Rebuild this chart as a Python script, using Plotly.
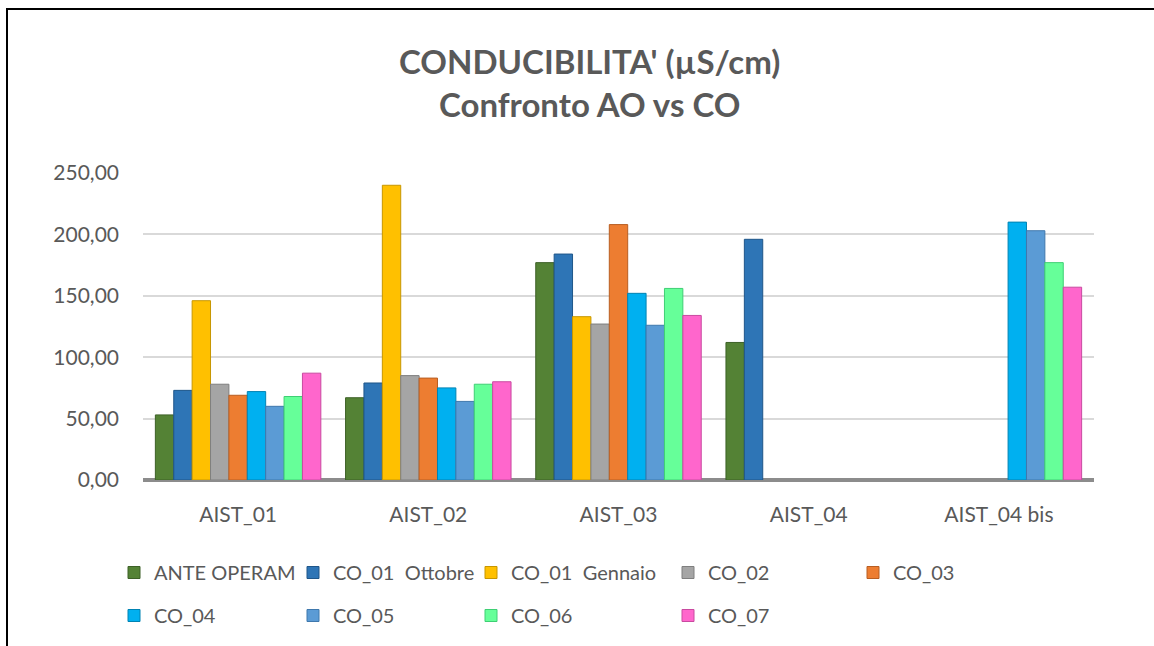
import plotly.graph_objects as go

categories = ["AIST_01", "AIST_02", "AIST_03", "AIST_04", "AIST_04 bis"]

series_names = ["ANTE OPERAM", "CO_01  Ottobre", "CO_01  Gennaio", "CO_02", "CO_03",
                "CO_04", "CO_05", "CO_06", "CO_07"]

ante_operam = [53, 67, 177, 112, None]
co_01_ottobre = [73, 79, 184, 196, None]
co_01_gennaio = [146, 240, 133, None, None]
co_02 = [78, 85, 127, None, None]
co_03 = [69, 83, 208, None, None]
co_04 = [72, 75, 152, None, 210]
co_05 = [60, 64, 126, None, 203]
co_06 = [68, 78, 156, None, 177]
co_07 = [87, 80, 134, None, 157]

series_values = [ante_operam, co_01_ottobre, co_01_gennaio, co_02, co_03,
                 co_04, co_05, co_06, co_07]

colors = ["#548235", "#2E75B6", "#FFC000", "#A5A5A5", "#ED7D31",
          "#00B0F0", "#5B9BD5", "#66FF99", "#FF66CC"]
edge_colors = ["#3d6127", "#1f5689", "#c79600", "#7f7f7f", "#b85e22",
               "#0083b3", "#3f78ad", "#3fcf74", "#c94aa0"]

# legend column assignment (matches reference layout)
legend_ids = ["legend", "legend2", "legend3", "legend4", "legend5",
              "legend", "legend2", "legend3", "legend4"]

fig = go.Figure()
for name, vals, c, ec, lg in zip(series_names, series_values, colors, edge_colors, legend_ids):
    fig.add_trace(go.Bar(
        name=name, x=categories, y=vals,
        marker=dict(color=c, line=dict(color=ec, width=1)),
        legend=lg, legendgroup=name,
    ))

font_family = "Lato, 'Open Sans', sans-serif"
txt = "#595959"

legend_x_px = [133, 312, 490, 687, 872]
plot_l, plot_r = 143, 1154 - 60
plot_w = plot_r - plot_l
plot_t, plot_b = 173, 480
plot_h = plot_b - plot_t

def px_to_paper_x(px):
    return (px - plot_l) / plot_w

def py_to_paper_y(py):
    return (plot_b - py) / plot_h

legend_common = dict(
    orientation="v", xanchor="left", yanchor="top",
    font=dict(family=font_family, size=20, color=txt),
    bgcolor="rgba(0,0,0,0)", itemwidth=30, tracegroupgap=14,
    itemclick=False, itemdoubleclick=False,
)
layout_legends = {}
for i, lid in enumerate(["legend", "legend2", "legend3", "legend4", "legend5"]):
    layout_legends[lid] = dict(legend_common, x=px_to_paper_x(legend_x_px[i] - 19),
                               y=py_to_paper_y(553))

fig.update_layout(
    width=1154, height=646,
    margin=dict(l=plot_l, r=1154 - plot_r, t=plot_t, b=646 - plot_b, autoexpand=False),
    paper_bgcolor="white", plot_bgcolor="white",
    separators=",.",
    barmode="group", bargap=0.13, bargroupgap=0,
    title=dict(
        text="<b>CONDUCIBILITA' (µS/cm)</b><br><b>Confronto AO vs CO</b>",
        x=0.511, xanchor="center", y=0.886, yanchor="middle",
        font=dict(family=font_family, size=33, color=txt),
    ),
    xaxis=dict(
        tickfont=dict(family=font_family, size=21, color=txt),
        showgrid=False, showline=False, ticks="", ticklabelstandoff=20,
    ),
    yaxis=dict(
        range=[0, 250], dtick=50, tickformat=".2f",
        tickfont=dict(family=font_family, size=21, color=txt),
        gridcolor="#d9d9d9", gridwidth=2,
        zeroline=True, zerolinecolor="#8c8c8c", zerolinewidth=4,
        showline=False, ticks="", ticklabelstandoff=23,
    ),
    showlegend=True,
    shapes=[
        dict(type="line", xref="paper", yref="paper",
             x0=px_to_paper_x(6), x1=px_to_paper_x(1160),
             y0=py_to_paper_y(9), y1=py_to_paper_y(9),
             line=dict(color="black", width=2)),
        dict(type="line", xref="paper", yref="paper",
             x0=px_to_paper_x(7), x1=px_to_paper_x(7),
             y0=py_to_paper_y(8), y1=py_to_paper_y(660),
             line=dict(color="black", width=2)),
    ],
    **layout_legends,
)

fig.write_html(
    "out.html",
    config={"displayModeBar": False},
    post_script="document.body.style.margin='0';document.body.style.overflow='hidden';",
)
